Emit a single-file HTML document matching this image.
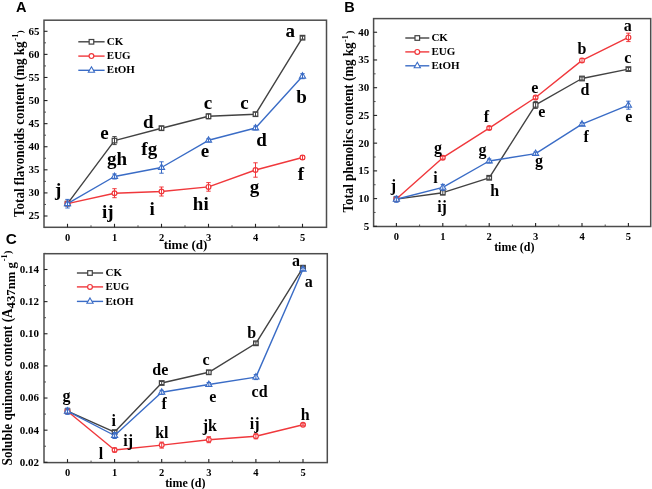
<!DOCTYPE html>
<html><head><meta charset="utf-8"><style>
html,body{margin:0;padding:0;background:#fff;}
body{width:652px;height:489px;overflow:hidden;}
svg{display:block;will-change:transform;}
</style></head><body>
<svg width="652" height="489" viewBox="0 0 652 489">
<rect width="652" height="489" fill="#fff"/>
<rect x="44" y="20.2" width="282.5" height="207.1" fill="none" stroke="#4d4d4d" stroke-width="1.5"/>
<path d="M67.5 227.3 v-3.5" stroke="#222" stroke-width="1.1"/><path d="M91 227.3 v-2" stroke="#4d4d4d" stroke-width="1"/><text x="67.5" y="241" text-anchor="middle" font-family="'Liberation Serif', serif" font-weight="bold" font-size="10.5">0</text><path d="M114.5 227.3 v-3.5" stroke="#222" stroke-width="1.1"/><path d="M138 227.3 v-2" stroke="#4d4d4d" stroke-width="1"/><text x="114.5" y="241" text-anchor="middle" font-family="'Liberation Serif', serif" font-weight="bold" font-size="10.5">1</text><path d="M161.5 227.3 v-3.5" stroke="#222" stroke-width="1.1"/><path d="M185 227.3 v-2" stroke="#4d4d4d" stroke-width="1"/><text x="161.5" y="241" text-anchor="middle" font-family="'Liberation Serif', serif" font-weight="bold" font-size="10.5">2</text><path d="M208.5 227.3 v-3.5" stroke="#222" stroke-width="1.1"/><path d="M232 227.3 v-2" stroke="#4d4d4d" stroke-width="1"/><text x="208.5" y="241" text-anchor="middle" font-family="'Liberation Serif', serif" font-weight="bold" font-size="10.5">3</text><path d="M255.5 227.3 v-3.5" stroke="#222" stroke-width="1.1"/><path d="M279 227.3 v-2" stroke="#4d4d4d" stroke-width="1"/><text x="255.5" y="241" text-anchor="middle" font-family="'Liberation Serif', serif" font-weight="bold" font-size="10.5">4</text><path d="M302.5 227.3 v-3.5" stroke="#222" stroke-width="1.1"/><text x="302.5" y="241" text-anchor="middle" font-family="'Liberation Serif', serif" font-weight="bold" font-size="10.5">5</text>
<path d="M44 216 h3.5" stroke="#222" stroke-width="1.1"/><text x="39.4" y="219.4" text-anchor="end" font-family="'Liberation Serif', serif" font-weight="bold" font-size="11">25</text><path d="M44 192.91 h3.5" stroke="#222" stroke-width="1.1"/><text x="39.4" y="196.31" text-anchor="end" font-family="'Liberation Serif', serif" font-weight="bold" font-size="11">30</text><path d="M44 169.82 h3.5" stroke="#222" stroke-width="1.1"/><text x="39.4" y="173.22" text-anchor="end" font-family="'Liberation Serif', serif" font-weight="bold" font-size="11">35</text><path d="M44 146.74 h3.5" stroke="#222" stroke-width="1.1"/><text x="39.4" y="150.14" text-anchor="end" font-family="'Liberation Serif', serif" font-weight="bold" font-size="11">40</text><path d="M44 123.65 h3.5" stroke="#222" stroke-width="1.1"/><text x="39.4" y="127.05" text-anchor="end" font-family="'Liberation Serif', serif" font-weight="bold" font-size="11">45</text><path d="M44 100.56 h3.5" stroke="#222" stroke-width="1.1"/><text x="39.4" y="103.96" text-anchor="end" font-family="'Liberation Serif', serif" font-weight="bold" font-size="11">50</text><path d="M44 77.48 h3.5" stroke="#222" stroke-width="1.1"/><text x="39.4" y="80.88" text-anchor="end" font-family="'Liberation Serif', serif" font-weight="bold" font-size="11">55</text><path d="M44 54.39 h3.5" stroke="#222" stroke-width="1.1"/><text x="39.4" y="57.79" text-anchor="end" font-family="'Liberation Serif', serif" font-weight="bold" font-size="11">60</text><path d="M44 31.3 h3.5" stroke="#222" stroke-width="1.1"/><text x="39.4" y="34.7" text-anchor="end" font-family="'Liberation Serif', serif" font-weight="bold" font-size="11">65</text><path d="M44 204.46 h2" stroke="#4d4d4d" stroke-width="1"/><path d="M44 181.37 h2" stroke="#4d4d4d" stroke-width="1"/><path d="M44 158.28 h2" stroke="#4d4d4d" stroke-width="1"/><path d="M44 135.19 h2" stroke="#4d4d4d" stroke-width="1"/><path d="M44 112.11 h2" stroke="#4d4d4d" stroke-width="1"/><path d="M44 89.02 h2" stroke="#4d4d4d" stroke-width="1"/><path d="M44 65.93 h2" stroke="#4d4d4d" stroke-width="1"/><path d="M44 42.84 h2" stroke="#4d4d4d" stroke-width="1"/><path d="M44 227.54 h2" stroke="#4d4d4d" stroke-width="1"/>
<path d="M78.3 41.8 H104.6" stroke="#424242" stroke-width="1.4"/><rect x="89.15" y="39.5" width="4.6" height="4.6" fill="#fff" stroke="#424242" stroke-width="1.2"/><text x="106.8" y="44.9" font-family="'Liberation Serif', serif" font-weight="bold" font-size="11">CK</text><path d="M78.3 56.1 H104.6" stroke="#f0383c" stroke-width="1.4"/><circle cx="91.45" cy="56.1" r="2.4" fill="#fff" stroke="#f0383c" stroke-width="1.2"/><text x="106.8" y="59.2" font-family="'Liberation Serif', serif" font-weight="bold" font-size="11">EUG</text><path d="M78.3 70.3 H104.6" stroke="#3a6cc6" stroke-width="1.4"/><path d="M91.45 66.8 L94.55 72.2 L88.35 72.2 Z" fill="#fff" stroke="#3a6cc6" stroke-width="1.1" stroke-linejoin="miter"/><text x="106.8" y="73.4" font-family="'Liberation Serif', serif" font-weight="bold" font-size="11">EtOH</text>
<polyline points="67.5,203.6 114.5,140.6 161.5,128.2 208.5,116.3 255.5,114.2 302.5,37.7" fill="none" stroke="#424242" stroke-width="1.4" stroke-linejoin="round"/><rect x="65.2" y="201.3" width="4.6" height="4.6" fill="#fff" stroke="#424242" stroke-width="1.2"/><path d="M67.5 201.6 V205.6 M65.3 201.6 H69.7 M65.3 205.6 H69.7" stroke="#424242" stroke-width="1.0" fill="none"/><rect x="112.2" y="138.3" width="4.6" height="4.6" fill="#fff" stroke="#424242" stroke-width="1.2"/><path d="M114.5 136.6 V144.6 M112.3 136.6 H116.7 M112.3 144.6 H116.7" stroke="#424242" stroke-width="1.0" fill="none"/><rect x="159.2" y="125.9" width="4.6" height="4.6" fill="#fff" stroke="#424242" stroke-width="1.2"/><path d="M161.5 126.2 V130.2 M159.3 126.2 H163.7 M159.3 130.2 H163.7" stroke="#424242" stroke-width="1.0" fill="none"/><rect x="206.2" y="114" width="4.6" height="4.6" fill="#fff" stroke="#424242" stroke-width="1.2"/><path d="M208.5 113.8 V118.8 M206.3 113.8 H210.7 M206.3 118.8 H210.7" stroke="#424242" stroke-width="1.0" fill="none"/><rect x="253.2" y="111.9" width="4.6" height="4.6" fill="#fff" stroke="#424242" stroke-width="1.2"/><path d="M255.5 112.2 V116.2 M253.3 112.2 H257.7 M253.3 116.2 H257.7" stroke="#424242" stroke-width="1.0" fill="none"/><rect x="300.2" y="35.4" width="4.6" height="4.6" fill="#fff" stroke="#424242" stroke-width="1.2"/><path d="M302.5 36.2 V39.2 M300.3 36.2 H304.7 M300.3 39.2 H304.7" stroke="#424242" stroke-width="1.0" fill="none"/>
<polyline points="67.5,203.6 114.5,193.2 161.5,191.5 208.5,186.9 255.5,170 302.5,157.5" fill="none" stroke="#f0383c" stroke-width="1.4" stroke-linejoin="round"/><circle cx="67.5" cy="203.6" r="2.4" fill="#fff" stroke="#f0383c" stroke-width="1.2"/><path d="M67.5 201.6 V205.6 M65.3 201.6 H69.7 M65.3 205.6 H69.7" stroke="#f0383c" stroke-width="1.0" fill="none"/><circle cx="114.5" cy="193.2" r="2.4" fill="#fff" stroke="#f0383c" stroke-width="1.2"/><path d="M114.5 188.7 V197.7 M112.3 188.7 H116.7 M112.3 197.7 H116.7" stroke="#f0383c" stroke-width="1.0" fill="none"/><circle cx="161.5" cy="191.5" r="2.4" fill="#fff" stroke="#f0383c" stroke-width="1.2"/><path d="M161.5 187 V196 M159.3 187 H163.7 M159.3 196 H163.7" stroke="#f0383c" stroke-width="1.0" fill="none"/><circle cx="208.5" cy="186.9" r="2.4" fill="#fff" stroke="#f0383c" stroke-width="1.2"/><path d="M208.5 182.6 V191.2 M206.3 182.6 H210.7 M206.3 191.2 H210.7" stroke="#f0383c" stroke-width="1.0" fill="none"/><circle cx="255.5" cy="170" r="2.4" fill="#fff" stroke="#f0383c" stroke-width="1.2"/><path d="M255.5 162.8 V177.2 M253.3 162.8 H257.7 M253.3 177.2 H257.7" stroke="#f0383c" stroke-width="1.0" fill="none"/><circle cx="302.5" cy="157.5" r="2.4" fill="#fff" stroke="#f0383c" stroke-width="1.2"/><path d="M302.5 155.5 V159.5 M300.3 155.5 H304.7 M300.3 159.5 H304.7" stroke="#f0383c" stroke-width="1.0" fill="none"/>
<polyline points="67.5,203.7 114.5,176.5 161.5,167.5 208.5,140.3 255.5,128 302.5,76.2" fill="none" stroke="#3a6cc6" stroke-width="1.4" stroke-linejoin="round"/><path d="M67.5 200.2 L70.6 205.6 L64.4 205.6 Z" fill="#fff" stroke="#3a6cc6" stroke-width="1.1" stroke-linejoin="miter"/><path d="M67.5 199.4 V208 M65.3 199.4 H69.7 M65.3 208 H69.7" stroke="#3a6cc6" stroke-width="1.0" fill="none"/><path d="M114.5 173 L117.6 178.4 L111.4 178.4 Z" fill="#fff" stroke="#3a6cc6" stroke-width="1.1" stroke-linejoin="miter"/><path d="M114.5 174 V179 M112.3 174 H116.7 M112.3 179 H116.7" stroke="#3a6cc6" stroke-width="1.0" fill="none"/><path d="M161.5 164 L164.6 169.4 L158.4 169.4 Z" fill="#fff" stroke="#3a6cc6" stroke-width="1.1" stroke-linejoin="miter"/><path d="M161.5 161.8 V173.2 M159.3 161.8 H163.7 M159.3 173.2 H163.7" stroke="#3a6cc6" stroke-width="1.0" fill="none"/><path d="M208.5 136.8 L211.6 142.2 L205.4 142.2 Z" fill="#fff" stroke="#3a6cc6" stroke-width="1.1" stroke-linejoin="miter"/><path d="M208.5 138.8 V141.8 M206.3 138.8 H210.7 M206.3 141.8 H210.7" stroke="#3a6cc6" stroke-width="1.0" fill="none"/><path d="M255.5 124.5 L258.6 129.9 L252.4 129.9 Z" fill="#fff" stroke="#3a6cc6" stroke-width="1.1" stroke-linejoin="miter"/><path d="M255.5 126 V130 M253.3 126 H257.7 M253.3 130 H257.7" stroke="#3a6cc6" stroke-width="1.0" fill="none"/><path d="M302.5 72.7 L305.6 78.1 L299.4 78.1 Z" fill="#fff" stroke="#3a6cc6" stroke-width="1.1" stroke-linejoin="miter"/><path d="M302.5 73.7 V78.7 M300.3 73.7 H304.7 M300.3 78.7 H304.7" stroke="#3a6cc6" stroke-width="1.0" fill="none"/>
<text x="285.39" y="37.4" font-family="'Liberation Serif', serif" font-weight="bold" font-size="19">a</text>
<text x="296.35" y="103.3" font-family="'Liberation Serif', serif" font-weight="bold" font-size="19">b</text>
<text x="203.85" y="108.7" font-family="'Liberation Serif', serif" font-weight="bold" font-size="19">c</text>
<text x="240.25" y="108.7" font-family="'Liberation Serif', serif" font-weight="bold" font-size="19">c</text>
<text x="143.12" y="127.8" font-family="'Liberation Serif', serif" font-weight="bold" font-size="19">d</text>
<text x="256.22" y="146.3" font-family="'Liberation Serif', serif" font-weight="bold" font-size="19">d</text>
<text x="100.35" y="138.6" font-family="'Liberation Serif', serif" font-weight="bold" font-size="19">e</text>
<text x="200.65" y="157" font-family="'Liberation Serif', serif" font-weight="bold" font-size="19">e</text>
<text x="297.87" y="179.8" font-family="'Liberation Serif', serif" font-weight="bold" font-size="19">f</text>
<text x="249.81" y="193" font-family="'Liberation Serif', serif" font-weight="bold" font-size="19">g</text>
<text x="106.91" y="165" font-family="'Liberation Serif', serif" font-weight="bold" font-size="19">gh</text>
<text x="141.37" y="155.1" font-family="'Liberation Serif', serif" font-weight="bold" font-size="19">fg</text>
<text x="192.83" y="210.4" font-family="'Liberation Serif', serif" font-weight="bold" font-size="19">hi</text>
<text x="101.98" y="217.7" font-family="'Liberation Serif', serif" font-weight="bold" font-size="19">ij</text>
<text x="149.48" y="214.6" font-family="'Liberation Serif', serif" font-weight="bold" font-size="19">i</text>
<text x="55.05" y="195.8" font-family="'Liberation Serif', serif" font-weight="bold" font-size="19">j</text>
<text x="185.5" y="248.9" text-anchor="middle" font-family="'Liberation Serif', serif" font-weight="bold" font-size="13">time (d)</text>
<text transform="translate(23.8,216.9) rotate(-90) scale(1,1.04)" font-family="'Liberation Serif', serif" font-weight="bold" font-size="13.05">Total flavonoids content (mg kg<tspan font-size="8" dx="1" dy="-5.9">-1</tspan><tspan font-size="8.5" dx="0.6" dy="5.5">)</tspan></text>
<text x="16" y="12" font-family="'Liberation Sans', sans-serif" font-weight="bold" font-size="14.5">A</text>
<rect x="373.6" y="18.6" width="277.1" height="207.9" fill="none" stroke="#4d4d4d" stroke-width="1.5"/>
<path d="M396.4 226.5 v-3.5" stroke="#222" stroke-width="1.1"/><path d="M419.6 226.5 v-2" stroke="#4d4d4d" stroke-width="1"/><text x="396.4" y="239.5" text-anchor="middle" font-family="'Liberation Serif', serif" font-weight="bold" font-size="10.5">0</text><path d="M442.8 226.5 v-3.5" stroke="#222" stroke-width="1.1"/><path d="M466 226.5 v-2" stroke="#4d4d4d" stroke-width="1"/><text x="442.8" y="239.5" text-anchor="middle" font-family="'Liberation Serif', serif" font-weight="bold" font-size="10.5">1</text><path d="M489.2 226.5 v-3.5" stroke="#222" stroke-width="1.1"/><path d="M512.4 226.5 v-2" stroke="#4d4d4d" stroke-width="1"/><text x="489.2" y="239.5" text-anchor="middle" font-family="'Liberation Serif', serif" font-weight="bold" font-size="10.5">2</text><path d="M535.6 226.5 v-3.5" stroke="#222" stroke-width="1.1"/><path d="M558.8 226.5 v-2" stroke="#4d4d4d" stroke-width="1"/><text x="535.6" y="239.5" text-anchor="middle" font-family="'Liberation Serif', serif" font-weight="bold" font-size="10.5">3</text><path d="M582 226.5 v-3.5" stroke="#222" stroke-width="1.1"/><path d="M605.2 226.5 v-2" stroke="#4d4d4d" stroke-width="1"/><text x="582" y="239.5" text-anchor="middle" font-family="'Liberation Serif', serif" font-weight="bold" font-size="10.5">4</text><path d="M628.4 226.5 v-3.5" stroke="#222" stroke-width="1.1"/><text x="628.4" y="239.5" text-anchor="middle" font-family="'Liberation Serif', serif" font-weight="bold" font-size="10.5">5</text>
<path d="M373.6 226.32 h3.5" stroke="#222" stroke-width="1.1"/><text x="369.3" y="229.72" text-anchor="end" font-family="'Liberation Serif', serif" font-weight="bold" font-size="11">5</text><path d="M373.6 198.6 h3.5" stroke="#222" stroke-width="1.1"/><text x="369.3" y="202" text-anchor="end" font-family="'Liberation Serif', serif" font-weight="bold" font-size="11">10</text><path d="M373.6 170.88 h3.5" stroke="#222" stroke-width="1.1"/><text x="369.3" y="174.28" text-anchor="end" font-family="'Liberation Serif', serif" font-weight="bold" font-size="11">15</text><path d="M373.6 143.15 h3.5" stroke="#222" stroke-width="1.1"/><text x="369.3" y="146.55" text-anchor="end" font-family="'Liberation Serif', serif" font-weight="bold" font-size="11">20</text><path d="M373.6 115.42 h3.5" stroke="#222" stroke-width="1.1"/><text x="369.3" y="118.83" text-anchor="end" font-family="'Liberation Serif', serif" font-weight="bold" font-size="11">25</text><path d="M373.6 87.7 h3.5" stroke="#222" stroke-width="1.1"/><text x="369.3" y="91.1" text-anchor="end" font-family="'Liberation Serif', serif" font-weight="bold" font-size="11">30</text><path d="M373.6 59.97 h3.5" stroke="#222" stroke-width="1.1"/><text x="369.3" y="63.37" text-anchor="end" font-family="'Liberation Serif', serif" font-weight="bold" font-size="11">35</text><path d="M373.6 32.25 h3.5" stroke="#222" stroke-width="1.1"/><text x="369.3" y="35.65" text-anchor="end" font-family="'Liberation Serif', serif" font-weight="bold" font-size="11">40</text><path d="M373.6 212.46 h2" stroke="#4d4d4d" stroke-width="1"/><path d="M373.6 184.74 h2" stroke="#4d4d4d" stroke-width="1"/><path d="M373.6 157.01 h2" stroke="#4d4d4d" stroke-width="1"/><path d="M373.6 129.29 h2" stroke="#4d4d4d" stroke-width="1"/><path d="M373.6 101.56 h2" stroke="#4d4d4d" stroke-width="1"/><path d="M373.6 73.84 h2" stroke="#4d4d4d" stroke-width="1"/><path d="M373.6 46.11 h2" stroke="#4d4d4d" stroke-width="1"/>
<path d="M405.3 38 H429.3" stroke="#424242" stroke-width="1.4"/><rect x="415" y="35.7" width="4.6" height="4.6" fill="#fff" stroke="#424242" stroke-width="1.2"/><text x="431.4" y="41.1" font-family="'Liberation Serif', serif" font-weight="bold" font-size="11">CK</text><path d="M405.3 51.9 H429.3" stroke="#f0383c" stroke-width="1.4"/><circle cx="417.3" cy="51.9" r="2.4" fill="#fff" stroke="#f0383c" stroke-width="1.2"/><text x="431.4" y="55" font-family="'Liberation Serif', serif" font-weight="bold" font-size="11">EUG</text><path d="M405.3 65.8 H429.3" stroke="#3a6cc6" stroke-width="1.4"/><path d="M417.3 62.3 L420.4 67.7 L414.2 67.7 Z" fill="#fff" stroke="#3a6cc6" stroke-width="1.1" stroke-linejoin="miter"/><text x="431.4" y="68.9" font-family="'Liberation Serif', serif" font-weight="bold" font-size="11">EtOH</text>
<polyline points="396.4,199.1 442.8,192.7 489.2,177.8 535.6,104.9 582,78.5 628.4,69.1" fill="none" stroke="#424242" stroke-width="1.4" stroke-linejoin="round"/><rect x="394.1" y="196.8" width="4.6" height="4.6" fill="#fff" stroke="#424242" stroke-width="1.2"/><path d="M396.4 197.6 V200.6 M394.2 197.6 H398.6 M394.2 200.6 H398.6" stroke="#424242" stroke-width="1.0" fill="none"/><rect x="440.5" y="190.4" width="4.6" height="4.6" fill="#fff" stroke="#424242" stroke-width="1.2"/><path d="M442.8 190.7 V194.7 M440.6 190.7 H445 M440.6 194.7 H445" stroke="#424242" stroke-width="1.0" fill="none"/><rect x="486.9" y="175.5" width="4.6" height="4.6" fill="#fff" stroke="#424242" stroke-width="1.2"/><path d="M489.2 176.3 V179.3 M487 176.3 H491.4 M487 179.3 H491.4" stroke="#424242" stroke-width="1.0" fill="none"/><rect x="533.3" y="102.6" width="4.6" height="4.6" fill="#fff" stroke="#424242" stroke-width="1.2"/><path d="M535.6 101.4 V108.4 M533.4 101.4 H537.8 M533.4 108.4 H537.8" stroke="#424242" stroke-width="1.0" fill="none"/><rect x="579.7" y="76.2" width="4.6" height="4.6" fill="#fff" stroke="#424242" stroke-width="1.2"/><path d="M582 77 V80 M579.8 77 H584.2 M579.8 80 H584.2" stroke="#424242" stroke-width="1.0" fill="none"/><rect x="626.1" y="66.8" width="4.6" height="4.6" fill="#fff" stroke="#424242" stroke-width="1.2"/><path d="M628.4 67.6 V70.6 M626.2 67.6 H630.6 M626.2 70.6 H630.6" stroke="#424242" stroke-width="1.0" fill="none"/>
<polyline points="396.4,199.1 442.8,157.7 489.2,128.1 535.6,97.5 582,60.4 628.4,37.4" fill="none" stroke="#f0383c" stroke-width="1.4" stroke-linejoin="round"/><circle cx="396.4" cy="199.1" r="2.4" fill="#fff" stroke="#f0383c" stroke-width="1.2"/><path d="M396.4 197.6 V200.6 M394.2 197.6 H398.6 M394.2 200.6 H398.6" stroke="#f0383c" stroke-width="1.0" fill="none"/><circle cx="442.8" cy="157.7" r="2.4" fill="#fff" stroke="#f0383c" stroke-width="1.2"/><path d="M442.8 156.2 V159.2 M440.6 156.2 H445 M440.6 159.2 H445" stroke="#f0383c" stroke-width="1.0" fill="none"/><circle cx="489.2" cy="128.1" r="2.4" fill="#fff" stroke="#f0383c" stroke-width="1.2"/><path d="M489.2 126.6 V129.6 M487 126.6 H491.4 M487 129.6 H491.4" stroke="#f0383c" stroke-width="1.0" fill="none"/><circle cx="535.6" cy="97.5" r="2.4" fill="#fff" stroke="#f0383c" stroke-width="1.2"/><path d="M535.6 96 V99 M533.4 96 H537.8 M533.4 99 H537.8" stroke="#f0383c" stroke-width="1.0" fill="none"/><circle cx="582" cy="60.4" r="2.4" fill="#fff" stroke="#f0383c" stroke-width="1.2"/><path d="M582 58.4 V62.4 M579.8 58.4 H584.2 M579.8 62.4 H584.2" stroke="#f0383c" stroke-width="1.0" fill="none"/><circle cx="628.4" cy="37.4" r="2.4" fill="#fff" stroke="#f0383c" stroke-width="1.2"/><path d="M628.4 33.2 V41.6 M626.2 33.2 H630.6 M626.2 41.6 H630.6" stroke="#f0383c" stroke-width="1.0" fill="none"/>
<polyline points="396.4,199.3 442.8,187.4 489.2,161 535.6,153.6 582,124.2 628.4,105.2" fill="none" stroke="#3a6cc6" stroke-width="1.4" stroke-linejoin="round"/><path d="M396.4 195.8 L399.5 201.2 L393.3 201.2 Z" fill="#fff" stroke="#3a6cc6" stroke-width="1.1" stroke-linejoin="miter"/><path d="M396.4 196.3 V202.3 M394.2 196.3 H398.6 M394.2 202.3 H398.6" stroke="#3a6cc6" stroke-width="1.0" fill="none"/><path d="M442.8 183.9 L445.9 189.3 L439.7 189.3 Z" fill="#fff" stroke="#3a6cc6" stroke-width="1.1" stroke-linejoin="miter"/><path d="M442.8 184.4 V190.4 M440.6 184.4 H445 M440.6 190.4 H445" stroke="#3a6cc6" stroke-width="1.0" fill="none"/><path d="M489.2 157.5 L492.3 162.9 L486.1 162.9 Z" fill="#fff" stroke="#3a6cc6" stroke-width="1.1" stroke-linejoin="miter"/><path d="M489.2 159 V163 M487 159 H491.4 M487 163 H491.4" stroke="#3a6cc6" stroke-width="1.0" fill="none"/><path d="M535.6 150.1 L538.7 155.5 L532.5 155.5 Z" fill="#fff" stroke="#3a6cc6" stroke-width="1.1" stroke-linejoin="miter"/><path d="M535.6 152.1 V155.1 M533.4 152.1 H537.8 M533.4 155.1 H537.8" stroke="#3a6cc6" stroke-width="1.0" fill="none"/><path d="M582 120.7 L585.1 126.1 L578.9 126.1 Z" fill="#fff" stroke="#3a6cc6" stroke-width="1.1" stroke-linejoin="miter"/><path d="M582 122.7 V125.7 M579.8 122.7 H584.2 M579.8 125.7 H584.2" stroke="#3a6cc6" stroke-width="1.0" fill="none"/><path d="M628.4 101.7 L631.5 107.1 L625.3 107.1 Z" fill="#fff" stroke="#3a6cc6" stroke-width="1.1" stroke-linejoin="miter"/><path d="M628.4 101.2 V109.2 M626.2 101.2 H630.6 M626.2 109.2 H630.6" stroke="#3a6cc6" stroke-width="1.0" fill="none"/>
<text x="623.69" y="30.9" font-family="'Liberation Serif', serif" font-weight="bold" font-size="16">a</text>
<text x="577.39" y="53.7" font-family="'Liberation Serif', serif" font-weight="bold" font-size="16">b</text>
<text x="624.16" y="63.2" font-family="'Liberation Serif', serif" font-weight="bold" font-size="16">c</text>
<text x="580.44" y="94.8" font-family="'Liberation Serif', serif" font-weight="bold" font-size="16">d</text>
<text x="531.26" y="92.6" font-family="'Liberation Serif', serif" font-weight="bold" font-size="16">e</text>
<text x="538.26" y="116.6" font-family="'Liberation Serif', serif" font-weight="bold" font-size="16">e</text>
<text x="625.36" y="122" font-family="'Liberation Serif', serif" font-weight="bold" font-size="16">e</text>
<text x="483.69" y="121.7" font-family="'Liberation Serif', serif" font-weight="bold" font-size="16">f</text>
<text x="583.39" y="142.4" font-family="'Liberation Serif', serif" font-weight="bold" font-size="16">f</text>
<text x="433.88" y="152.7" font-family="'Liberation Serif', serif" font-weight="bold" font-size="16">g</text>
<text x="478.38" y="155.4" font-family="'Liberation Serif', serif" font-weight="bold" font-size="16">g</text>
<text x="534.88" y="165.8" font-family="'Liberation Serif', serif" font-weight="bold" font-size="16">g</text>
<text x="490.2" y="195.5" font-family="'Liberation Serif', serif" font-weight="bold" font-size="16">h</text>
<text x="433.35" y="182.6" font-family="'Liberation Serif', serif" font-weight="bold" font-size="16">i</text>
<text x="437.15" y="212" font-family="'Liberation Serif', serif" font-weight="bold" font-size="16">ij</text>
<text x="390.83" y="190.9" font-family="'Liberation Serif', serif" font-weight="bold" font-size="16">j</text>
<text x="514.3" y="250.8" text-anchor="middle" font-family="'Liberation Serif', serif" font-weight="bold" font-size="12">time (d)</text>
<text transform="translate(353.2,212.6) rotate(-90) scale(1,1.04)" font-family="'Liberation Serif', serif" font-weight="bold" font-size="13.03">Total phenolics content (mg kg<tspan font-size="8" dx="0.4" dy="-5.2">-1</tspan><tspan font-size="10" dx="1.4" dy="5.2">)</tspan></text>
<text x="344.3" y="11.7" font-family="'Liberation Sans', sans-serif" font-weight="bold" font-size="14.5">B</text>
<rect x="44" y="253.7" width="283.3" height="208.9" fill="none" stroke="#4d4d4d" stroke-width="1.5"/>
<path d="M67.5 462.6 v-3.5" stroke="#222" stroke-width="1.1"/><path d="M91.05 462.6 v-2" stroke="#4d4d4d" stroke-width="1"/><text x="67.5" y="475.8" text-anchor="middle" font-family="'Liberation Serif', serif" font-weight="bold" font-size="10.5">0</text><path d="M114.6 462.6 v-3.5" stroke="#222" stroke-width="1.1"/><path d="M138.15 462.6 v-2" stroke="#4d4d4d" stroke-width="1"/><text x="114.6" y="475.8" text-anchor="middle" font-family="'Liberation Serif', serif" font-weight="bold" font-size="10.5">1</text><path d="M161.7 462.6 v-3.5" stroke="#222" stroke-width="1.1"/><path d="M185.25 462.6 v-2" stroke="#4d4d4d" stroke-width="1"/><text x="161.7" y="475.8" text-anchor="middle" font-family="'Liberation Serif', serif" font-weight="bold" font-size="10.5">2</text><path d="M208.8 462.6 v-3.5" stroke="#222" stroke-width="1.1"/><path d="M232.35 462.6 v-2" stroke="#4d4d4d" stroke-width="1"/><text x="208.8" y="475.8" text-anchor="middle" font-family="'Liberation Serif', serif" font-weight="bold" font-size="10.5">3</text><path d="M255.9 462.6 v-3.5" stroke="#222" stroke-width="1.1"/><path d="M279.45 462.6 v-2" stroke="#4d4d4d" stroke-width="1"/><text x="255.9" y="475.8" text-anchor="middle" font-family="'Liberation Serif', serif" font-weight="bold" font-size="10.5">4</text><path d="M303 462.6 v-3.5" stroke="#222" stroke-width="1.1"/><text x="303" y="475.8" text-anchor="middle" font-family="'Liberation Serif', serif" font-weight="bold" font-size="10.5">5</text>
<path d="M44 462.3 h3.5" stroke="#222" stroke-width="1.1"/><text x="38.9" y="465.7" text-anchor="end" font-family="'Liberation Serif', serif" font-weight="bold" font-size="11">0.02</text><path d="M44 430.17 h3.5" stroke="#222" stroke-width="1.1"/><text x="38.9" y="433.57" text-anchor="end" font-family="'Liberation Serif', serif" font-weight="bold" font-size="11">0.04</text><path d="M44 398.03 h3.5" stroke="#222" stroke-width="1.1"/><text x="38.9" y="401.43" text-anchor="end" font-family="'Liberation Serif', serif" font-weight="bold" font-size="11">0.06</text><path d="M44 365.9 h3.5" stroke="#222" stroke-width="1.1"/><text x="38.9" y="369.3" text-anchor="end" font-family="'Liberation Serif', serif" font-weight="bold" font-size="11">0.08</text><path d="M44 333.76 h3.5" stroke="#222" stroke-width="1.1"/><text x="38.9" y="337.16" text-anchor="end" font-family="'Liberation Serif', serif" font-weight="bold" font-size="11">0.10</text><path d="M44 301.63 h3.5" stroke="#222" stroke-width="1.1"/><text x="38.9" y="305.03" text-anchor="end" font-family="'Liberation Serif', serif" font-weight="bold" font-size="11">0.12</text><path d="M44 269.5 h3.5" stroke="#222" stroke-width="1.1"/><text x="38.9" y="272.9" text-anchor="end" font-family="'Liberation Serif', serif" font-weight="bold" font-size="11">0.14</text><path d="M44 446.23 h2" stroke="#4d4d4d" stroke-width="1"/><path d="M44 414.1 h2" stroke="#4d4d4d" stroke-width="1"/><path d="M44 381.97 h2" stroke="#4d4d4d" stroke-width="1"/><path d="M44 349.83 h2" stroke="#4d4d4d" stroke-width="1"/><path d="M44 317.7 h2" stroke="#4d4d4d" stroke-width="1"/><path d="M44 285.56 h2" stroke="#4d4d4d" stroke-width="1"/><path d="M44 253.43 h2" stroke="#4d4d4d" stroke-width="1"/>
<path d="M76.9 273 H103.1" stroke="#424242" stroke-width="1.4"/><rect x="87.7" y="270.7" width="4.6" height="4.6" fill="#fff" stroke="#424242" stroke-width="1.2"/><text x="105.5" y="276.1" font-family="'Liberation Serif', serif" font-weight="bold" font-size="11">CK</text><path d="M76.9 286.9 H103.1" stroke="#f0383c" stroke-width="1.4"/><circle cx="90" cy="286.9" r="2.4" fill="#fff" stroke="#f0383c" stroke-width="1.2"/><text x="105.5" y="290" font-family="'Liberation Serif', serif" font-weight="bold" font-size="11">EUG</text><path d="M76.9 301.4 H103.1" stroke="#3a6cc6" stroke-width="1.4"/><path d="M90 297.9 L93.1 303.3 L86.9 303.3 Z" fill="#fff" stroke="#3a6cc6" stroke-width="1.1" stroke-linejoin="miter"/><text x="105.5" y="304.5" font-family="'Liberation Serif', serif" font-weight="bold" font-size="11">EtOH</text>
<polyline points="67.5,411.2 114.6,432.1 161.7,383 208.8,372.3 255.9,343.3 303,267.7" fill="none" stroke="#424242" stroke-width="1.4" stroke-linejoin="round"/><rect x="65.2" y="408.9" width="4.6" height="4.6" fill="#fff" stroke="#424242" stroke-width="1.2"/><path d="M67.5 409.7 V412.7 M65.3 409.7 H69.7 M65.3 412.7 H69.7" stroke="#424242" stroke-width="1.0" fill="none"/><rect x="112.3" y="429.8" width="4.6" height="4.6" fill="#fff" stroke="#424242" stroke-width="1.2"/><path d="M114.6 430.6 V433.6 M112.4 430.6 H116.8 M112.4 433.6 H116.8" stroke="#424242" stroke-width="1.0" fill="none"/><rect x="159.4" y="380.7" width="4.6" height="4.6" fill="#fff" stroke="#424242" stroke-width="1.2"/><path d="M161.7 381.5 V384.5 M159.5 381.5 H163.9 M159.5 384.5 H163.9" stroke="#424242" stroke-width="1.0" fill="none"/><rect x="206.5" y="370" width="4.6" height="4.6" fill="#fff" stroke="#424242" stroke-width="1.2"/><path d="M208.8 370.3 V374.3 M206.6 370.3 H211 M206.6 374.3 H211" stroke="#424242" stroke-width="1.0" fill="none"/><rect x="253.6" y="341" width="4.6" height="4.6" fill="#fff" stroke="#424242" stroke-width="1.2"/><path d="M255.9 341.8 V344.8 M253.7 341.8 H258.1 M253.7 344.8 H258.1" stroke="#424242" stroke-width="1.0" fill="none"/><rect x="300.7" y="265.4" width="4.6" height="4.6" fill="#fff" stroke="#424242" stroke-width="1.2"/><path d="M303 266.7 V268.7 M300.8 266.7 H305.2 M300.8 268.7 H305.2" stroke="#424242" stroke-width="1.0" fill="none"/>
<polyline points="67.5,411.2 114.6,450 161.7,445.1 208.8,439.7 255.9,436.3 303,424.8" fill="none" stroke="#f0383c" stroke-width="1.4" stroke-linejoin="round"/><circle cx="67.5" cy="411.2" r="2.4" fill="#fff" stroke="#f0383c" stroke-width="1.2"/><path d="M67.5 409.7 V412.7 M65.3 409.7 H69.7 M65.3 412.7 H69.7" stroke="#f0383c" stroke-width="1.0" fill="none"/><circle cx="114.6" cy="450" r="2.4" fill="#fff" stroke="#f0383c" stroke-width="1.2"/><path d="M114.6 448 V452 M112.4 448 H116.8 M112.4 452 H116.8" stroke="#f0383c" stroke-width="1.0" fill="none"/><circle cx="161.7" cy="445.1" r="2.4" fill="#fff" stroke="#f0383c" stroke-width="1.2"/><path d="M161.7 442.1 V448.1 M159.5 442.1 H163.9 M159.5 448.1 H163.9" stroke="#f0383c" stroke-width="1.0" fill="none"/><circle cx="208.8" cy="439.7" r="2.4" fill="#fff" stroke="#f0383c" stroke-width="1.2"/><path d="M208.8 436.7 V442.7 M206.6 436.7 H211 M206.6 442.7 H211" stroke="#f0383c" stroke-width="1.0" fill="none"/><circle cx="255.9" cy="436.3" r="2.4" fill="#fff" stroke="#f0383c" stroke-width="1.2"/><path d="M255.9 433.8 V438.8 M253.7 433.8 H258.1 M253.7 438.8 H258.1" stroke="#f0383c" stroke-width="1.0" fill="none"/><circle cx="303" cy="424.8" r="2.4" fill="#fff" stroke="#f0383c" stroke-width="1.2"/><path d="M303 423.8 V425.8 M300.8 423.8 H305.2 M300.8 425.8 H305.2" stroke="#f0383c" stroke-width="1.0" fill="none"/>
<polyline points="67.5,411.2 114.6,435.5 161.7,392.3 208.8,384.5 255.9,377.1 303,269.2" fill="none" stroke="#3a6cc6" stroke-width="1.4" stroke-linejoin="round"/><path d="M67.5 407.7 L70.6 413.1 L64.4 413.1 Z" fill="#fff" stroke="#3a6cc6" stroke-width="1.1" stroke-linejoin="miter"/><path d="M67.5 408 V414.4 M65.3 408 H69.7 M65.3 414.4 H69.7" stroke="#3a6cc6" stroke-width="1.0" fill="none"/><path d="M114.6 432 L117.7 437.4 L111.5 437.4 Z" fill="#fff" stroke="#3a6cc6" stroke-width="1.1" stroke-linejoin="miter"/><path d="M114.6 432.5 V438.5 M112.4 432.5 H116.8 M112.4 438.5 H116.8" stroke="#3a6cc6" stroke-width="1.0" fill="none"/><path d="M161.7 388.8 L164.8 394.2 L158.6 394.2 Z" fill="#fff" stroke="#3a6cc6" stroke-width="1.1" stroke-linejoin="miter"/><path d="M161.7 390.3 V394.3 M159.5 390.3 H163.9 M159.5 394.3 H163.9" stroke="#3a6cc6" stroke-width="1.0" fill="none"/><path d="M208.8 381 L211.9 386.4 L205.7 386.4 Z" fill="#fff" stroke="#3a6cc6" stroke-width="1.1" stroke-linejoin="miter"/><path d="M208.8 382.5 V386.5 M206.6 382.5 H211 M206.6 386.5 H211" stroke="#3a6cc6" stroke-width="1.0" fill="none"/><path d="M255.9 373.6 L259 379 L252.8 379 Z" fill="#fff" stroke="#3a6cc6" stroke-width="1.1" stroke-linejoin="miter"/><path d="M255.9 374.6 V379.6 M253.7 374.6 H258.1 M253.7 379.6 H258.1" stroke="#3a6cc6" stroke-width="1.0" fill="none"/><path d="M303 265.7 L306.1 271.1 L299.9 271.1 Z" fill="#fff" stroke="#3a6cc6" stroke-width="1.1" stroke-linejoin="miter"/><path d="M303 267.7 V270.7 M300.8 267.7 H305.2 M300.8 270.7 H305.2" stroke="#3a6cc6" stroke-width="1.0" fill="none"/>
<text x="291.89" y="266" font-family="'Liberation Serif', serif" font-weight="bold" font-size="16">a</text>
<text x="304.69" y="287.3" font-family="'Liberation Serif', serif" font-weight="bold" font-size="16">a</text>
<text x="247.29" y="338.4" font-family="'Liberation Serif', serif" font-weight="bold" font-size="16">b</text>
<text x="202.46" y="365" font-family="'Liberation Serif', serif" font-weight="bold" font-size="16">c</text>
<text x="251.56" y="396.6" font-family="'Liberation Serif', serif" font-weight="bold" font-size="16">cd</text>
<text x="152.24" y="374.7" font-family="'Liberation Serif', serif" font-weight="bold" font-size="16">de</text>
<text x="209.36" y="401.8" font-family="'Liberation Serif', serif" font-weight="bold" font-size="16">e</text>
<text x="161.59" y="408.7" font-family="'Liberation Serif', serif" font-weight="bold" font-size="16">f</text>
<text x="62.38" y="401" font-family="'Liberation Serif', serif" font-weight="bold" font-size="16">g</text>
<text x="300.8" y="420.2" font-family="'Liberation Serif', serif" font-weight="bold" font-size="16">h</text>
<text x="111.55" y="426" font-family="'Liberation Serif', serif" font-weight="bold" font-size="16">i</text>
<text x="123.35" y="445.6" font-family="'Liberation Serif', serif" font-weight="bold" font-size="16">ij</text>
<text x="249.85" y="429" font-family="'Liberation Serif', serif" font-weight="bold" font-size="16">ij</text>
<text x="202.63" y="431.3" font-family="'Liberation Serif', serif" font-weight="bold" font-size="16">jk</text>
<text x="155.2" y="438.2" font-family="'Liberation Serif', serif" font-weight="bold" font-size="16">kl</text>
<text x="98.78" y="459" font-family="'Liberation Serif', serif" font-weight="bold" font-size="16">l</text>
<text x="185.3" y="486.7" text-anchor="middle" font-family="'Liberation Serif', serif" font-weight="bold" font-size="12">time (d)</text>
<text transform="translate(12.1,465.4) rotate(-90) scale(1,1.04)" font-family="'Liberation Serif', serif" font-weight="bold" font-size="13.12">Soluble quinones content (A<tspan dy="2.5" font-size="12.75">437nm g</tspan><tspan font-size="8.2" dx="0.8" dy="-7.2">-1</tspan><tspan font-size="10" dx="0.4" dy="3.8">)</tspan></text>
<text x="5.7" y="244.3" font-family="'Liberation Sans', sans-serif" font-weight="bold" font-size="15.3">C</text>
</svg>
</body></html>
